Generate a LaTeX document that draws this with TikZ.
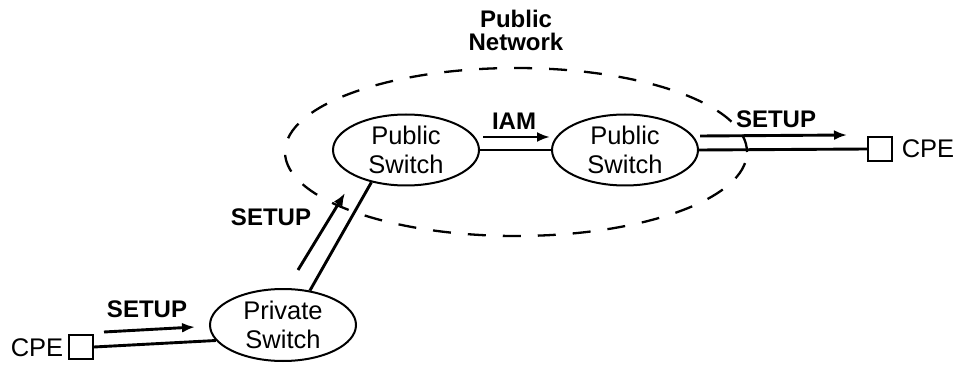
\documentclass[tikz,border=0pt]{standalone}
\usepackage{fontspec}
\setmainfont{Liberation Sans}
\usetikzlibrary{arrows.meta,shapes.geometric}
\begin{document}
\begin{tikzpicture}[x=1pt,y=-1pt,
  switchnode/.style={draw,ellipse,line width=2pt,minimum width=146pt,minimum height=71pt,
    inner sep=0pt,align=center,font=\fontsize{25.5}{29}\selectfont},
  cpebox/.style={draw,line width=1.8pt,minimum size=24pt,inner sep=0pt},
  plain/.style={font=\fontsize{25.5}{29}\selectfont,inner sep=0pt},
  msglabel/.style={font=\bfseries\fontsize{24}{24}\selectfont,inner sep=0pt,align=center},
  wire/.style={line width=2.9pt},
  msg/.style={line width=2.9pt,-{Latex[length=13pt,width=10pt]}},
  netline/.style={line width=2.3pt,dash pattern=on 18pt off 17pt}]
\useasboundingbox (0,0) rectangle (955,366);

% public network boundary
\draw[netline] (516,152) ellipse [x radius=231pt, y radius=84pt];
\node[msglabel] (netlabel) at (516,30) {Public\\[-1pt]Network};

% switches
\node[switchnode] (ps1) at (406,150) {Public\\Switch};
\node[switchnode] (ps2) at (625,150) {Public\\Switch};
\node[switchnode,minimum height=72pt,font=\fontsize{25.5}{28.5}\selectfont] (priv) at (283,325) {Private\\Switch};

% customer premises equipment
\node[cpebox] (cpeL) at (81,347) {};
\node[plain] (cpeLtext) at (37,348) {CPE};
\node[cpebox] (cpeR) at (880,149) {};
\node[plain] (cpeRtext) at (928,149) {CPE};

% links
\draw[wire] (cpeL.east) -- (priv.193);
\draw[wire] (priv.52) -- (ps1.223);
\draw[wire] (ps1.east) -- (ps2.west);
\draw[wire] (ps2.east) -- (cpeR.west);

% signalling messages
\draw[msg] (104,332) -- (195,327);
\node[msglabel] (setup1) at (147,309) {SETUP};
\draw[msg] (298,270) -- (345,193);
\node[msglabel] (setup2) at (271,217) {SETUP};
\draw[msg] (483,137) -- (550,137);
\node[msglabel] (iam) at (514,121) {IAM};
\draw[msg] (700,136) -- (847,135);
\node[msglabel] (setup3) at (776,119) {SETUP};
\end{tikzpicture}
\end{document}
